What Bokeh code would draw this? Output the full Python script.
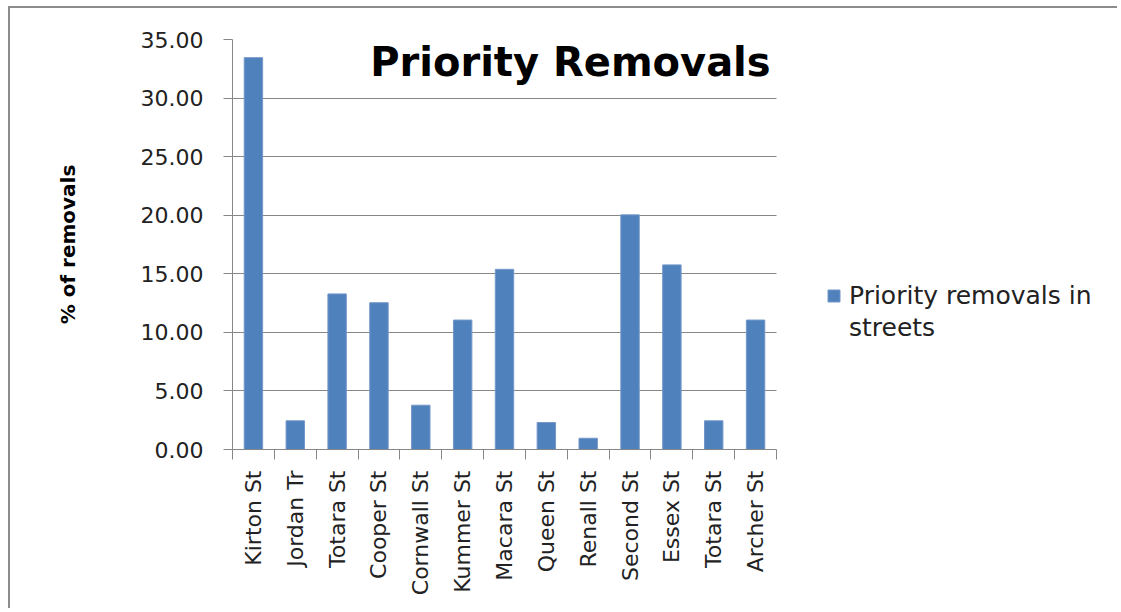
from bokeh.plotting import figure
from bokeh.models import Range1d, FixedTicker, PrintfTickFormatter, Label, Legend, LegendItem
from bokeh.embed import file_html
from bokeh.resources import INLINE
import math

# ---- data ----
streets = ["Kirton St", "Jordan Tr", "Totara St", "Cooper St", "Cornwall St", "Kummer St",
           "Macara St", "Queen St", "Renall St", "Second St", "Essex St", "Totara St", "Archer St"]
values = [33.45, 2.45, 13.28, 12.53, 3.78, 11.05, 15.38, 2.30, 0.96, 20.03, 15.76, 2.45, 11.05]
y_ticks = [0, 5, 10, 15, 20, 25, 30, 35]
grid_ticks = [5, 10, 15, 20, 25, 30]
series_lines = ["Priority removals in", "streets"]
title_text = "Priority Removals"
y_label = "% of removals"

n = len(streets)
centers = [i + 0.5 for i in range(n)]
bounds = list(range(n + 1))

GRAY = "#878787"
BLUE = "#4F81BD"

# layout (pixels)
W, H = 1109, 602
LEFT, TOP, BOTTOM = 222, 31, 161
CAT_SPAN = 544          # pixel width of the 13 categories
frame_w = W - LEFT
x_end = n * frame_w / CAT_SPAN

p = figure(width=W, height=H, output_backend="svg", toolbar_location=None,
           x_range=Range1d(0, x_end), y_range=Range1d(0, 35),
           min_border_left=LEFT, min_border_right=0, min_border_top=TOP, min_border_bottom=BOTTOM)
p.styles = {"border-top": "2px solid #8c8c8c", "border-left": "2px solid #8c8c8c",
            "margin-left": "8px", "margin-top": "6px"}
p.outline_line_color = None
p.background_fill_color = "white"
p.border_fill_color = "white"

r = p.vbar(x=centers, top=values, width=0.44, fill_color=BLUE, line_color="#7397c8", line_width=1)
blank = p.vbar(x=[], top=[], width=0.44, fill_alpha=0, line_alpha=0)

# grid limited to the category span
p.xgrid.visible = False
p.ygrid.ticker = FixedTicker(ticks=grid_ticks)
p.ygrid.grid_line_color = GRAY
p.ygrid.grid_line_width = 1
p.ygrid.cross_bounds = (0, n)

# y axis
ya = p.yaxis[0]
ya.ticker = FixedTicker(ticks=y_ticks)
ya.formatter = PrintfTickFormatter(format="%.2f")
ya.axis_line_color = GRAY
ya.major_tick_line_color = GRAY
ya.major_tick_out = 9
ya.major_tick_in = 0
ya.minor_tick_line_color = None
ya.major_label_text_font = "DejaVu Sans"
ya.major_label_text_font_size = "22px"
ya.major_label_text_color = "#222222"
ya.major_label_standoff = 20
ya.axis_label = y_label
ya.axis_label_text_font = "DejaVu Sans"
ya.axis_label_text_font_style = "bold"
ya.axis_label_text_font_size = "20px"
ya.axis_label_text_color = "black"
ya.axis_label_standoff = 58

# x axis
xa = p.xaxis[0]
xa.bounds = (0, n)
xa.ticker = FixedTicker(ticks=centers, minor_ticks=bounds)
xa.major_label_overrides = {c: s for c, s in zip(centers, streets)}
xa.major_label_orientation = math.pi / 2
xa.axis_line_color = GRAY
xa.major_tick_line_color = None
xa.minor_tick_line_color = GRAY
xa.minor_tick_out = 10
xa.minor_tick_in = 0
xa.major_label_text_font = "DejaVu Sans"
xa.major_label_text_font_size = "22px"
xa.major_label_text_color = "#222222"
xa.major_label_standoff = 11

# title inside plot area
p.add_layout(Label(x=n - 0.14, y=33.1, text=title_text, text_align="right",
                   text_baseline="alphabetic", text_font="DejaVu Sans",
                   text_font_style="bold", text_font_size="40px", text_color="black"))

# legend (two lines: glyph on the first)
legend = Legend(items=[LegendItem(label=series_lines[0], renderers=[r]),
                       LegendItem(label=series_lines[1], renderers=[blank])],
                location=(594, 107))
legend.border_line_color = None
legend.background_fill_alpha = 0
legend.padding = 0
legend.margin = 0
legend.spacing = 3
legend.glyph_width = 15
legend.glyph_height = 15
legend.label_standoff = 8
legend.label_text_font = "DejaVu Sans"
legend.label_text_font_size = "25px"
legend.label_text_color = "#222222"
p.add_layout(legend, "center")

open("out.html", "w").write(file_html(p, INLINE))
